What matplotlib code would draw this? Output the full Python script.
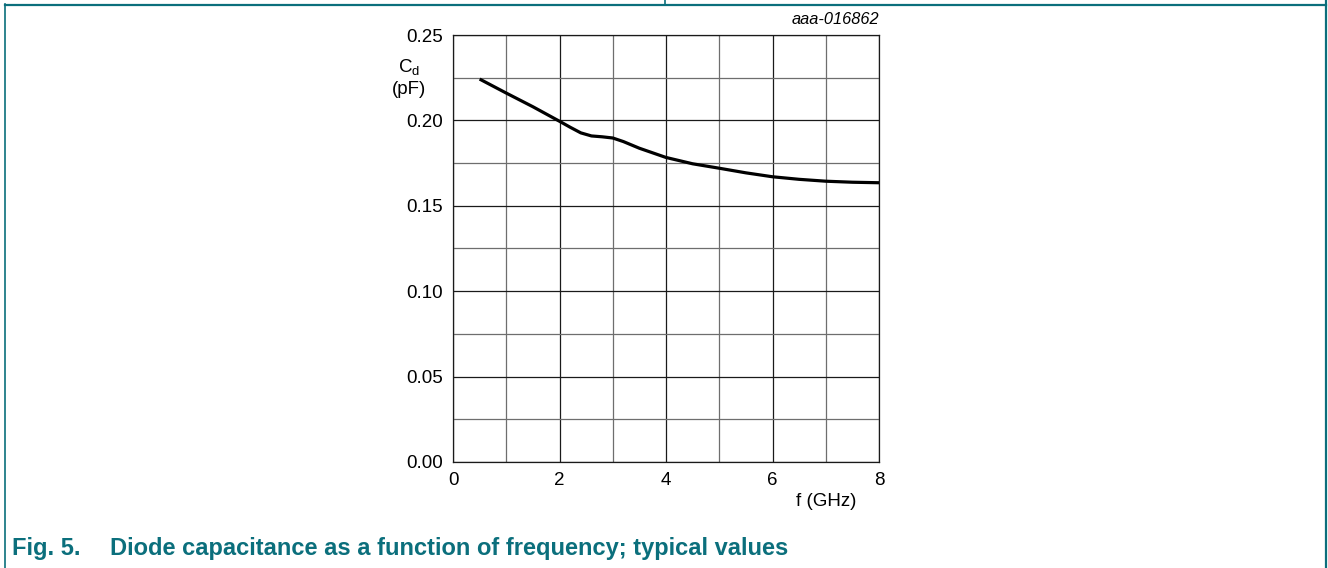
import matplotlib
matplotlib.use('Agg')
import matplotlib.pyplot as plt
from matplotlib.ticker import MultipleLocator

# curve
freq_ghz = [0.5, 1.0, 1.5, 2.0, 2.2, 2.4, 2.6, 2.8, 3.0, 3.2, 3.5, 4.0, 4.5, 5.0, 5.5, 6.0, 6.5, 7.0, 7.5, 8.0]
cap_pf = [0.2242, 0.2160, 0.2080, 0.1995, 0.1960, 0.1927, 0.1909, 0.1904, 0.1897, 0.1876, 0.1837, 0.1783, 0.1746, 0.1720, 0.1693, 0.1670, 0.1655, 0.1644, 0.1638, 0.1635]

x_ticks = [0, 2, 4, 6, 8]
y_ticks = [0.00, 0.05, 0.10, 0.15, 0.20, 0.25]
fig_no = 'Fig. 5.'
caption = 'Diode capacitance as a function of frequency; typical values'
teal = '#0B6F7C'

plt.rcParams['font.family'] = ['Liberation Sans', 'DejaVu Sans']

fig = plt.figure(figsize=(13.28, 5.68), dpi=100)
ax = fig.add_axes([453 / 1328, 1 - 462 / 568, 426 / 1328, 427 / 568])

ax.plot(freq_ghz, cap_pf, color='black', lw=2.3, solid_capstyle='butt', zorder=3)

ax.set_xlim(0, 8)
ax.set_ylim(0, 0.25)
ax.set_xticks(x_ticks)
ax.set_yticks(y_ticks)
ax.set_yticklabels(['%.2f' % v for v in y_ticks])
ax.xaxis.set_minor_locator(MultipleLocator(1))
ax.yaxis.set_minor_locator(MultipleLocator(0.025))
ax.grid(which='major', color='#1a1a1a', lw=0.9)
ax.grid(which='minor', color='#6e6e6e', lw=0.9)
ax.tick_params(which='both', length=0, labelsize=13.5, colors='black')
ax.tick_params(axis='x', pad=7)
ax.tick_params(axis='y', pad=7)
for s in ax.spines.values():
    s.set_color('#1a1a1a')
    s.set_linewidth(0.9)

fig.text(409 / 1328, 1 - 68 / 568, r'C$_\mathregular{d}$', ha='center', va='center', fontsize=13.5)
fig.text(409 / 1328, 1 - 90 / 568, '(pF)', ha='center', va='center', fontsize=13.5)
fig.text(826 / 1328, 1 - 502 / 568, 'f (GHz)', ha='center', va='center', fontsize=13.5)
fig.text(879 / 1328, 1 - 20 / 568, 'aaa-016862', ha='right', va='center', fontsize=11.8, style='italic')

fig.text(12 / 1328, 1 - 548 / 568, fig_no, ha='left', va='center', fontsize=17,
         fontweight='bold', color=teal)
fig.text(110 / 1328, 1 - 548 / 568, caption, ha='left', va='center', fontsize=17,
         fontweight='bold', color=teal)

# page frame
fig.add_artist(plt.Line2D([5 / 1328, 1326 / 1328], [1 - 4.5 / 568] * 2, color=teal, lw=1.6))
fig.add_artist(plt.Line2D([5 / 1328] * 2, [0, 1 - 4 / 568], color=teal, lw=1.2))
fig.add_artist(plt.Line2D([1326 / 1328] * 2, [0, 1], color=teal, lw=1.6))
fig.add_artist(plt.Line2D([665 / 1328] * 2, [1 - 4 / 568, 1], color=teal, lw=1.2))

fig.savefig('out.png', dpi=100)
